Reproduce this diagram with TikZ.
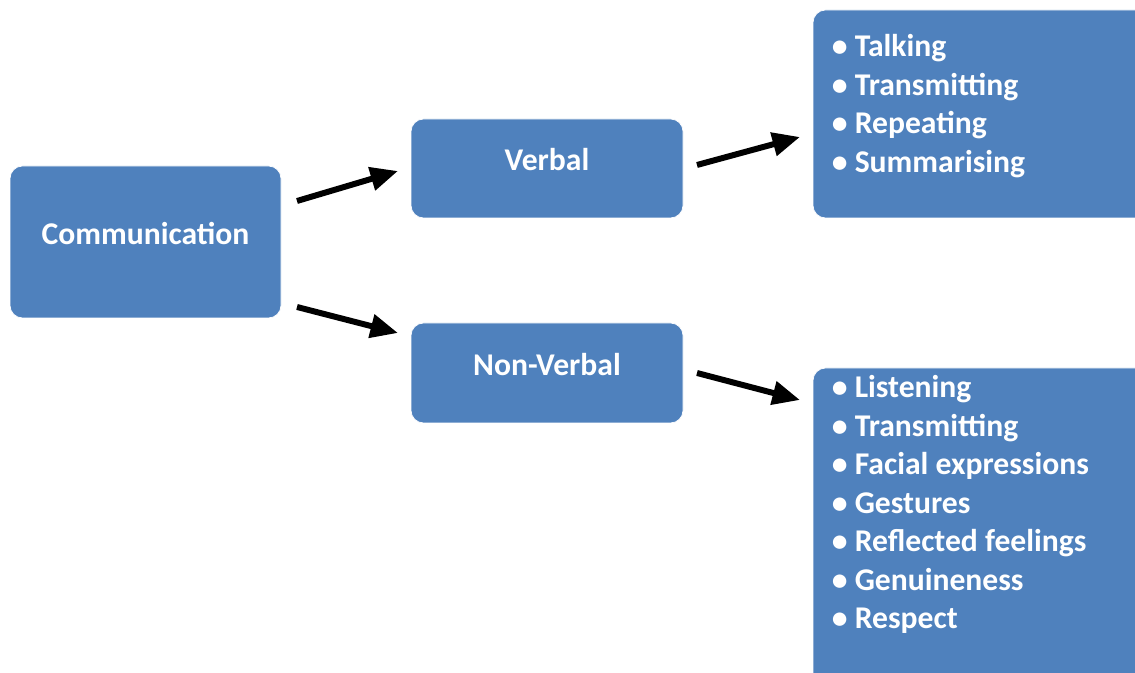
\documentclass[tikz,border=0pt]{standalone}
\usepackage{fontspec}
\setmainfont{Carlito}
\usetikzlibrary{arrows.meta}
\definecolor{boxblue}{HTML}{4F81BD}

\begin{document}
\begin{tikzpicture}[
		blockbox/.style={draw=white, thin, fill=boxblue, rounded corners=0.25cm, inner sep=0pt},
		blocktext/.style={white, font=\fontsize{18}{21.9}\selectfont\bfseries, anchor=base},
		itemtext/.style={white, font=\fontsize{18}{21.9}\selectfont\bfseries, anchor=base west, inner sep=0pt},
		bigarrow/.style={draw=black, line width=3.4pt, -{Triangle[length=0.55cm, width=0.46cm]}}
	]
		\path[use as bounding box, clip] (0.00,0.00) rectangle (22.70,13.46);
		\node[blockbox, minimum width=5.42cm, minimum height=3.04cm] (comm) at (2.91,8.62) {};
		\node[blockbox, minimum width=5.44cm, minimum height=1.98cm] (verbal) at (10.94,10.09) {};
		\node[blockbox, minimum width=5.44cm, minimum height=2.00cm] (nonverbal) at (10.94,6.00) {};
		\node[blockbox, minimum width=6.94cm, minimum height=4.16cm] (verballist) at (19.73,11.18) {};
		\node[blockbox, minimum width=6.94cm, minimum height=6.60cm] (nonverballist) at (19.73,2.80) {};
		\node[blocktext] (commlabel) at (2.91,8.56) {Communication};
		\node[blocktext] (verballabel) at (10.94,10.04) {Verbal};
		\node[blocktext] (nonverballabel) at (10.94,5.94) {Non-Verbal};
		\node[itemtext] (vitem1) at (16.63,12.32) {• Talking};
		\node[itemtext] (vitem2) at (16.63,11.55) {• Transmitting};
		\node[itemtext] (vitem3) at (16.63,10.78) {• Repeating};
		\node[itemtext] (vitem4) at (16.63,10.01) {• Summarising};
		\node[itemtext] (nitem1) at (16.63,5.50) {• Listening};
		\node[itemtext] (nitem2) at (16.63,4.73) {• Transmitting};
		\node[itemtext] (nitem3) at (16.63,3.96) {• Facial expressions};
		\node[itemtext] (nitem4) at (16.63,3.19) {• Gestures};
		\node[itemtext] (nitem5) at (16.63,2.42) {• Reflected feelings};
		\node[itemtext] (nitem6) at (16.63,1.65) {• Genuineness};
		\node[itemtext] (nitem7) at (16.63,0.88) {• Respect};
		\coordinate (upfrom) at (5.94,9.44);
		\coordinate (upto) at (7.96,10.04);
		\coordinate (downfrom) at (5.94,7.32);
		\coordinate (downto) at (7.96,6.80);
		\coordinate (vfrom) at (13.94,10.16);
		\coordinate (vto) at (16.00,10.72);
		\coordinate (nvfrom) at (13.94,6.00);
		\coordinate (nvto) at (16.00,5.46);
		\draw[bigarrow] (upfrom) -- (upto);
		\draw[bigarrow] (downfrom) -- (downto);
		\draw[bigarrow] (vfrom) -- (vto);
		\draw[bigarrow] (nvfrom) -- (nvto);
	\end{tikzpicture}
\end{document}
